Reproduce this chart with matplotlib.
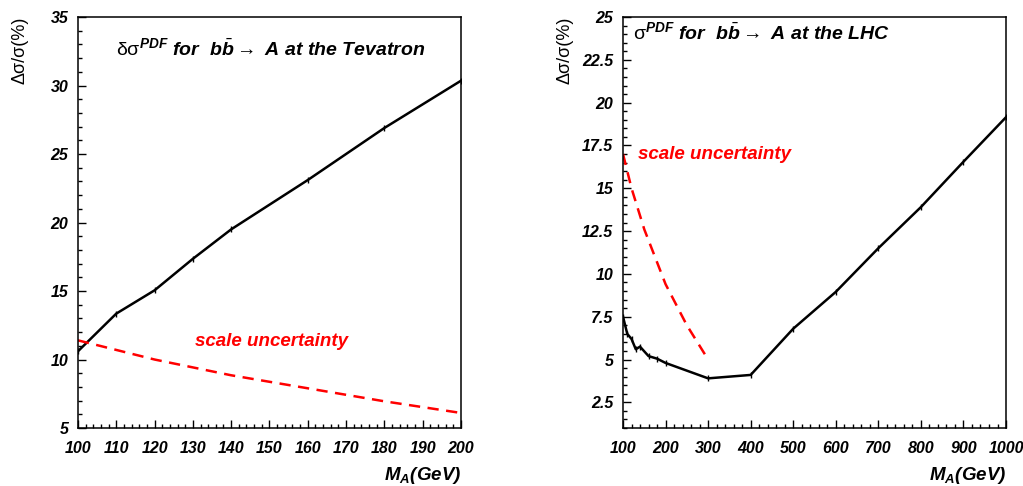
import numpy as np
import matplotlib
matplotlib.use("Agg")
import matplotlib.pyplot as plt
from matplotlib.ticker import MultipleLocator

plt.rcParams['font.family'] = ['Liberation Sans', 'DejaVu Sans']
plt.rcParams['mathtext.fontset'] = 'custom'
plt.rcParams['mathtext.rm'] = 'Liberation Sans'
plt.rcParams['mathtext.it'] = 'Liberation Sans:italic:bold'
plt.rcParams['mathtext.bf'] = 'Liberation Sans:bold:italic'

# Tevatron: PDF uncertainty and scale uncertainty
tev_mass = [100, 110, 120, 130, 140, 160, 180, 200]
tev_pdf = [10.6, 13.35, 15.05, 17.35, 19.5, 23.1, 26.9, 30.35]
tev_scale_mass = [100, 120, 140, 160, 180, 200]
tev_scale = [11.4, 10.0, 8.85, 7.9, 6.95, 6.1]

# LHC: PDF uncertainty and scale uncertainty
lhc_mass = [100, 110, 120, 130, 140, 160, 180, 200, 300, 400, 500, 600, 700, 800, 900, 1000]
lhc_pdf = [7.5, 6.5, 6.2, 5.6, 5.75, 5.2, 5.05, 4.8, 3.9, 4.1, 6.8, 8.95, 11.5, 13.9, 16.55, 19.15]
lhc_scale_mass = [100, 120, 150, 200, 250, 300]
lhc_scale = [17.0, 15.0, 12.6, 9.4, 7.0, 5.0]

fig = plt.figure(figsize=(10.23, 4.86), dpi=100)
ax1 = fig.add_axes([0.0762, 0.1193, 0.3744, 0.8457])
ax2 = fig.add_axes([0.609, 0.1193, 0.3744, 0.8457])

tick_font = dict(fontsize=11.5, fontweight='bold', fontstyle='italic')


def style_axis(ax, xlim, ylim, xmaj, xmin, ymaj, ymin, yfmt):
    ax.set_xlim(*xlim)
    ax.set_ylim(*ylim)
    ax.xaxis.set_major_locator(MultipleLocator(xmaj))
    ax.xaxis.set_minor_locator(MultipleLocator(xmin))
    ax.yaxis.set_major_locator(MultipleLocator(ymaj))
    ax.yaxis.set_minor_locator(MultipleLocator(ymin))
    ax.tick_params(which='both', direction='in', top=False, right=False, width=1)
    ax.tick_params(which='major', length=6)
    ax.tick_params(which='minor', length=3)
    ax.tick_params(axis='y', pad=7)
    ax.tick_params(axis='x', pad=9)
    for sp in ax.spines.values():
        sp.set_linewidth(1.1)
    xt = ax.get_xticks()
    ax.set_xticks(xt)
    ax.set_xticklabels([f"{int(t)}" for t in xt], **tick_font)
    yt = ax.get_yticks()
    ax.set_yticks(yt)
    ax.set_yticklabels([yfmt(t) for t in yt], **tick_font)
    ax.set_xlim(*xlim)
    ax.set_ylim(*ylim)


# left panel
ax1.plot(tev_mass, tev_pdf, color='black', lw=1.8, marker='|', ms=4, mew=1)
ax1.plot(tev_scale_mass, tev_scale, color='#ff0000', lw=1.8, ls=(0, (4.5, 3)))
style_axis(ax1, (100, 200), (5, 35), 10, 2, 5, 1, lambda t: f"{int(t)}")
ax1.text(0.1, 0.905, r"$\mathrm{\delta\sigma}^{PDF}$ for  b$\bar{b}$$\mathrm{\rightarrow}$ A at the Tevatron",
         transform=ax1.transAxes, fontsize=14, fontweight='bold', fontstyle='italic')
ax1.text(0.305, 0.2, "scale uncertainty", transform=ax1.transAxes, color='#ff0000',
         fontsize=13.5, fontweight='bold', fontstyle='italic')

# right panel
ax2.plot(lhc_mass, lhc_pdf, color='black', lw=1.8, marker='|', ms=4, mew=1)
ax2.plot(lhc_scale_mass, lhc_scale, color='#ff0000', lw=1.8, ls=(0, (4.5, 3)))
style_axis(ax2, (100, 1000), (1, 25), 100, 20, 2.5, 0.5,
           lambda t: f"{t:g}")
ax2.text(0.025, 0.945, r"$\mathrm{\sigma}^{PDF}$ for  b$\bar{b}$$\mathrm{\rightarrow}$ A at the LHC",
         transform=ax2.transAxes, fontsize=14, fontweight='bold', fontstyle='italic')
ax2.text(0.04, 0.655, "scale uncertainty", transform=ax2.transAxes, color='#ff0000',
         fontsize=13.5, fontweight='bold', fontstyle='italic')

# axis titles in ROOT style
for xl, xr in [(20, 461), (565, 1006)]:
    fig.text(xl / 1023, 1 - 17 / 486, "Δσ/σ(%)", rotation=90, ha='center', va='top', fontsize=13)
    fig.text(xr / 1023, 1 - 475 / 486, r"M$_A$(GeV)", ha='right', va='center',
             fontsize=13.5, fontweight='bold', fontstyle='italic')

fig.savefig("out.png", dpi=100, facecolor='white')
